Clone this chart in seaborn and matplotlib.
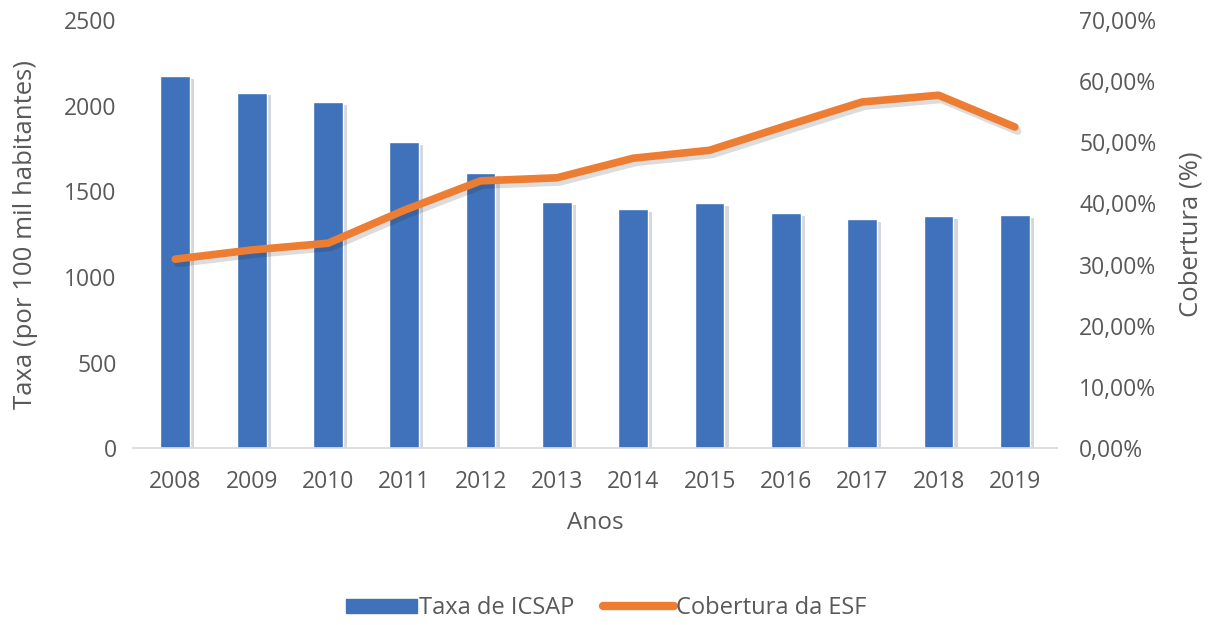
import numpy as np
import pandas as pd
import matplotlib
matplotlib.use('Agg')
import matplotlib.pyplot as plt
import matplotlib.patheffects as pe
from matplotlib.patches import Patch
from matplotlib.lines import Line2D
from matplotlib.ticker import FuncFormatter
import seaborn as sns

years = ['2008', '2009', '2010', '2011', '2012', '2013',
         '2014', '2015', '2016', '2017', '2018', '2019']
taxa_icsap = [2172, 2076, 2022, 1787, 1605, 1437, 1396, 1431, 1372, 1337, 1355, 1362]
cobertura_esf = [30.9, 32.4, 33.5, 38.9, 43.7, 44.2, 47.4, 48.7, 52.7, 56.6, 57.7, 52.5]

bar_color = '#3F72BA'
line_color = '#EE7D34'
text_color = '#595959'

sns.set_theme(style='white')
plt.rcParams['font.family'] = ['Open Sans', 'DejaVu Sans']

df = pd.DataFrame({'Ano': years, 'Taxa': taxa_icsap, 'Cobertura': cobertura_esf})
df['pos'] = np.arange(len(years))

fig = plt.figure(figsize=(12.12, 6.25), dpi=100)
ax = fig.add_axes([0.11, 0.283, 0.762, 0.685])

sns.barplot(data=df, x='Ano', y='Taxa', color=bar_color, width=0.39,
            saturation=1, ax=ax)
for p in ax.patches:
    p.set_path_effects([pe.SimplePatchShadow(offset=(3, -2), alpha=0.18), pe.Normal()])

ax2 = ax.twinx()
sns.lineplot(data=df, x='pos', y='Cobertura', color=line_color, linewidth=5.5,
             ax=ax2, solid_capstyle='round')
for ln in ax2.lines:
    ln.set_path_effects([pe.SimpleLineShadow(offset=(2, -3), alpha=0.15), pe.Normal()])

ax.set_ylim(0, 2500)
ax.set_yticks(range(0, 2501, 500))
ax2.set_ylim(0, 70)
ax2.set_yticks(range(0, 71, 10))
ax2.yaxis.set_major_formatter(FuncFormatter(lambda v, _: f'{v:.2f}%'.replace('.', ',')))
ax.set_xlim(-0.55, len(years) - 0.45)

for a in (ax, ax2):
    for s in a.spines.values():
        s.set_visible(False)
    a.tick_params(axis='both', length=0, labelsize=16.5, colors=text_color, pad=12)
ax.tick_params(axis='x', pad=16)
ax2.tick_params(axis='y', pad=16)
ax.spines['bottom'].set_visible(True)
ax.spines['bottom'].set_color('#D9D9D9')

ax.set_xlabel('Anos', fontsize=17.5, color=text_color, labelpad=12)
ax.set_ylabel('Taxa (por 100 mil habitantes)', fontsize=18.5, color=text_color, labelpad=19)
ax2.set_ylabel('Cobertura (%)', fontsize=18.5, color=text_color, labelpad=16)
ax.grid(False)
ax2.grid(False)

handles = [Patch(color=bar_color, label='Taxa de ICSAP'),
           Line2D([0], [0], color=line_color, linewidth=6, solid_capstyle='round',
                  label='Cobertura da ESF')]
leg = fig.legend(handles=handles, loc='center', bbox_to_anchor=(0.5, 0.027), ncol=2,
                 frameon=False, fontsize=17, handlelength=3.0, handleheight=0.55,
                 handletextpad=0.1, columnspacing=1.2)
for t in leg.get_texts():
    t.set_color(text_color)

fig.savefig('out.png', dpi=100, facecolor='white')
